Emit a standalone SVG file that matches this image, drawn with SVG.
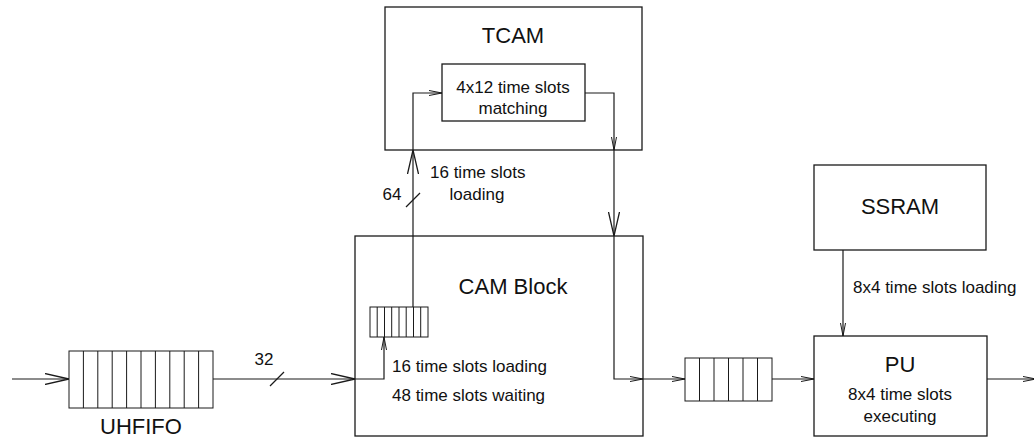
<svg xmlns="http://www.w3.org/2000/svg" width="1034" height="437" viewBox="0 0 1034 437">
  <style>
    .box { fill: #ffffff; stroke: #1a1a1a; stroke-width: 1.3; }
    .cell { fill: none; stroke: #1a1a1a; stroke-width: 1; }
    .wire { fill: none; stroke: #1a1a1a; stroke-width: 1.2; }
    .title { font-family: "Liberation Sans", Arial, sans-serif; font-size: 22px; fill: #111; text-anchor: middle; }
    .lbl { font-family: "Liberation Sans", Arial, sans-serif; font-size: 17px; fill: #111; }
    .mid { text-anchor: middle; }
  </style>
  <defs>
    <!-- open V arrowheads, drawn in user space -->
    <marker id="arrS" markerUnits="userSpaceOnUse" viewBox="0 0 13 6" markerWidth="13" markerHeight="6" refX="13" refY="3" orient="auto">
      <path d="M0,0.5 L13,3 L0,5.5" fill="none" stroke="#1a1a1a" stroke-width="1"/>
    </marker>
    <marker id="arrL" markerUnits="userSpaceOnUse" viewBox="0 0 24 12" markerWidth="24" markerHeight="12" refX="24" refY="6" orient="auto">
      <path d="M0,0.5 L24,6 L0,11.5" fill="none" stroke="#1a1a1a" stroke-width="1.3"/>
    </marker>
  </defs>

  <!-- TCAM -->
  <g id="tcam">
    <rect class="box" x="385" y="7" width="257" height="143"/>
    <text class="title" x="513" y="43">TCAM</text>
    <rect class="box" x="442" y="64" width="143" height="57"/>
    <text class="lbl mid" x="513" y="93">4x12 time slots</text>
    <text class="lbl mid" x="513" y="114">matching</text>
  </g>

  <!-- CAM Block -->
  <g id="cam">
    <rect class="box" x="355" y="236" width="288" height="200"/>
    <text class="title" x="513" y="294">CAM Block</text>
    <text class="lbl" x="392" y="372">16 time slots loading</text>
    <text class="lbl" x="392" y="401">48 time slots waiting</text>
  </g>

  <!-- small queue inside CAM Block -->
  <g id="cam-queue">
    <rect class="cell" x="370" y="307" width="58" height="30"/>
    <path class="cell" d="M377.2,307v30M384.5,307v30M391.7,307v30M399,307v30M406.2,307v30M413.5,307v30M420.7,307v30"/>
  </g>

  <!-- UHFIFO -->
  <g id="uhfifo">
    <rect class="cell" x="69" y="351" width="144" height="57"/>
    <path class="cell" d="M83.4,351v57M97.8,351v57M112.2,351v57M126.6,351v57M141,351v57M155.4,351v57M169.8,351v57M184.2,351v57M198.6,351v57"/>
    <text class="title" x="141" y="434">UHFIFO</text>
  </g>

  <!-- queue between CAM Block and PU -->
  <g id="pu-queue">
    <rect class="cell" x="685" y="358" width="87" height="43"/>
    <path class="cell" d="M699.5,358v43M714,358v43M728.5,358v43M743,358v43M757.5,358v43"/>
  </g>

  <!-- SSRAM -->
  <g id="ssram">
    <rect class="box" x="814" y="165" width="172" height="85"/>
    <text class="title" x="900" y="214">SSRAM</text>
  </g>

  <!-- PU -->
  <g id="pu">
    <rect class="box" x="814" y="336" width="173" height="100"/>
    <text class="title" x="900" y="372">PU</text>
    <text class="lbl mid" x="900" y="400">8x4 time slots</text>
    <text class="lbl mid" x="900" y="422">executing</text>
  </g>

  <!-- connectors -->
  <g id="connectors">
    <!-- input into UHFIFO -->
    <path class="wire" d="M12,379H69" marker-end="url(#arrL)"/>
    <!-- UHFIFO to CAM Block, 32 bits -->
    <path class="wire" d="M213,379H355" marker-end="url(#arrL)"/>
    <path class="wire" d="M270,386L284,372"/>
    <text class="lbl mid" x="264" y="365">32</text>
    <!-- CAM Block edge into internal queue -->
    <path class="wire" d="M355,379H384V337" marker-end="url(#arrS)"/>
    <!-- internal queue up to TCAM, 64 bits -->
    <path class="wire" d="M413,307V150" marker-end="url(#arrL)"/>
    <path class="wire" d="M406,207L420,193"/>
    <text class="lbl mid" x="392" y="200">64</text>
    <text class="lbl" x="430" y="178">16 time slots</text>
    <text class="lbl mid" x="477" y="200">loading</text>
    <!-- inside TCAM into matcher -->
    <path class="wire" d="M413,150V93H442" marker-end="url(#arrS)"/>
    <!-- matcher out to TCAM edge -->
    <path class="wire" d="M585,93H614V150" marker-end="url(#arrS)"/>
    <!-- TCAM down to CAM Block -->
    <path class="wire" d="M614,150V236" marker-end="url(#arrL)"/>
    <!-- inside CAM Block to its right edge -->
    <path class="wire" d="M614,236V379H643" marker-end="url(#arrS)"/>
    <!-- CAM Block to queue -->
    <path class="wire" d="M643,379H685" marker-end="url(#arrS)"/>
    <!-- queue to PU -->
    <path class="wire" d="M772,379H814" marker-end="url(#arrS)"/>
    <!-- PU output -->
    <path class="wire" d="M987,379H1036" marker-end="url(#arrS)"/>
    <!-- SSRAM to PU -->
    <path class="wire" d="M843,250V336" marker-end="url(#arrS)"/>
    <text class="lbl" x="853" y="293">8x4 time slots loading</text>
  </g>
</svg>
